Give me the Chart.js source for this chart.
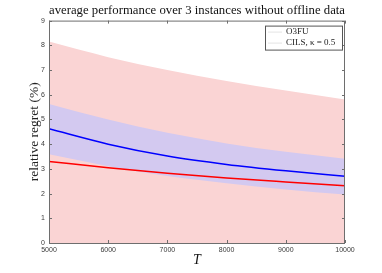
<!DOCTYPE html>
<html>
<head>
<meta charset="utf-8">
<script src="https://cdn.jsdelivr.net/npm/chart.js@4.4.1/dist/chart.umd.min.js"></script>
<style>
  html, body { margin: 0; padding: 0; background: #fff; }
  #wrap { width: 382px; height: 273px; }
</style>
</head>
<body>
<div id="wrap"><canvas id="regretChart" width="382" height="273"></canvas></div>
<script>
const tValues = [5000, 6000, 7000, 8000, 9000, 10000];
const o3fuMean = [3.30, 3.05, 2.82, 2.63, 2.47, 2.32];
const o3fuUpper = [8.15, 7.52, 7.00, 6.56, 6.17, 5.81];
const o3fuLower = [0, 0, 0, 0, 0, 0];
const cilsMean = [4.62, 4.00, 3.52, 3.18, 2.92, 2.70];
const cilsUpper = [5.63, 5.00, 4.46, 4.03, 3.69, 3.41];
const cilsLower = [3.59, 3.11, 2.71, 2.42, 2.17, 1.96];
const xTicks = [5000, 6000, 7000, 8000, 9000, 10000];
const yTicks = [0, 1, 2, 3, 4, 5, 6, 7, 8, 9];
const seriesNames = ['O3FU', 'CILS, \u03ba = 0.5'];

const toPoints = (ys) => tValues.map((t, i) => ({ x: t, y: ys[i] }));

const axisColor = '#6e6e6e';
const tickColor = '#3a3a3a';

// box round the plot plus short inward ticks on all four sides
const frameTicks = {
  id: 'frameTicks',
  afterDatasetsDraw(chart) {
    const { ctx, chartArea: a, scales } = chart;
    ctx.save();
    ctx.strokeStyle = axisColor;
    ctx.lineWidth = 1;
    ctx.strokeRect(a.left + 0.5, a.top + 0.5, a.right - a.left - 1, a.bottom - a.top);
    ctx.beginPath();
    const len = 3;
    xTicks.forEach((v) => {
      const x = Math.round(scales.x.getPixelForValue(v)) + 0.5;
      ctx.moveTo(x, a.bottom); ctx.lineTo(x, a.bottom - len);
      ctx.moveTo(x, a.top); ctx.lineTo(x, a.top + len);
    });
    yTicks.forEach((v) => {
      const y = Math.round(scales.y.getPixelForValue(v)) + 0.5;
      ctx.moveTo(a.left, y); ctx.lineTo(a.left + len, y);
      ctx.moveTo(a.right, y); ctx.lineTo(a.right - len, y);
    });
    ctx.stroke();
    ctx.restore();
  },
};

// matlab style legend box in the upper right corner
const boxLegend = {
  id: 'boxLegend',
  afterDraw(chart) {
    const { ctx, chartArea: a } = chart;
    const rowH = 11;
    const w = 77;
    const h = seriesNames.length * rowH + 2;
    const left = a.right - w - 3;
    const top = a.top + 5;
    ctx.save();
    ctx.fillStyle = '#fff';
    ctx.fillRect(left, top, w, h);
    ctx.strokeStyle = '#555';
    ctx.lineWidth = 1;
    ctx.strokeRect(left + 0.5, top + 0.5, w, h);
    ctx.font = '9px "Liberation Serif", serif';
    ctx.textBaseline = 'middle';
    seriesNames.forEach((name, i) => {
      const y = top + 6.5 + i * rowH;
      ctx.strokeStyle = '#e4e4e4';
      ctx.beginPath();
      ctx.moveTo(left + 3, y);
      ctx.lineTo(left + 17, y);
      ctx.stroke();
      ctx.fillStyle = '#222';
      ctx.fillText(name, left + 21, y);
    });
    ctx.restore();
  },
};

const lineStyle = {
  parsing: false,
  pointRadius: 0,
  borderWidth: 1.5,
  tension: 0.4,
  cubicInterpolationMode: 'monotone',
  fill: false,
};

new Chart(document.getElementById('regretChart'), {
  type: 'line',
  data: {
    datasets: [
      { ...lineStyle, label: seriesNames[0], data: toPoints(o3fuMean), borderColor: '#ff0000' },
      { ...lineStyle, label: seriesNames[1], data: toPoints(cilsMean), borderColor: '#0000ff' },
      {
        ...lineStyle, label: 'cils upper', data: toPoints(cilsUpper), borderWidth: 0,
        borderColor: 'rgba(0,0,0,0)', backgroundColor: '#d3c9f0', fill: '+1',
      },
      {
        ...lineStyle, label: 'cils lower', data: toPoints(cilsLower), borderWidth: 0,
        borderColor: 'rgba(0,0,0,0)',
      },
      {
        ...lineStyle, label: 'o3fu upper', data: toPoints(o3fuUpper), borderWidth: 0,
        borderColor: 'rgba(0,0,0,0)', backgroundColor: '#fad4d4', fill: '+1',
      },
      {
        ...lineStyle, label: 'o3fu lower', data: toPoints(o3fuLower), borderWidth: 0,
        borderColor: 'rgba(0,0,0,0)',
      },
    ],
  },
  options: {
    responsive: false,
    animation: false,
    events: [],
    layout: { padding: { top: 0, right: 37, bottom: 0, left: 0 } },
    scales: {
      x: {
        type: 'linear',
        min: 5000,
        max: 10000,
        afterBuildTicks: (scale) => { scale.ticks = xTicks.map((v) => ({ value: v })); },
        afterFit: (scale) => { scale.height = 30; },
        grid: { display: false, drawTicks: false },
        border: { display: false },
        ticks: {
          padding: 3,
          color: tickColor,
          font: { family: '"Liberation Sans", sans-serif', size: 7 },
          maxRotation: 0,
          callback: (v) => String(v),
        },
        title: {
          display: true,
          text: 'T',
          color: '#111',
          font: { family: '"Liberation Serif", serif', size: 14, style: 'italic' },
          padding: { top: 0, bottom: 4 },
        },
      },
      y: {
        min: 0,
        max: 9,
        afterBuildTicks: (scale) => { scale.ticks = yTicks.map((v) => ({ value: v })); },
        afterFit: (scale) => { scale.width = 49; },
        grid: { display: false, drawTicks: false },
        border: { display: false },
        ticks: {
          padding: 4,
          color: tickColor,
          font: { family: '"Liberation Sans", sans-serif', size: 7 },
        },
        title: {
          display: true,
          text: 'relative regret (%)',
          color: '#222',
          font: { family: '"Liberation Serif", serif', size: 13.5 },
          padding: { top: 26, bottom: 0 },
        },
      },
    },
    plugins: {
      legend: { display: false },
      tooltip: { enabled: false },
      title: {
        display: true,
        fullSize: false,
        text: 'average performance over 3 instances without offline data',
        color: '#111',
        font: { family: '"Liberation Serif", serif', size: 13, weight: 'normal' },
        padding: { top: 3, bottom: 2 },
      },
    },
  },
  plugins: [frameTicks, boxLegend],
});
</script>
</body>
</html>
